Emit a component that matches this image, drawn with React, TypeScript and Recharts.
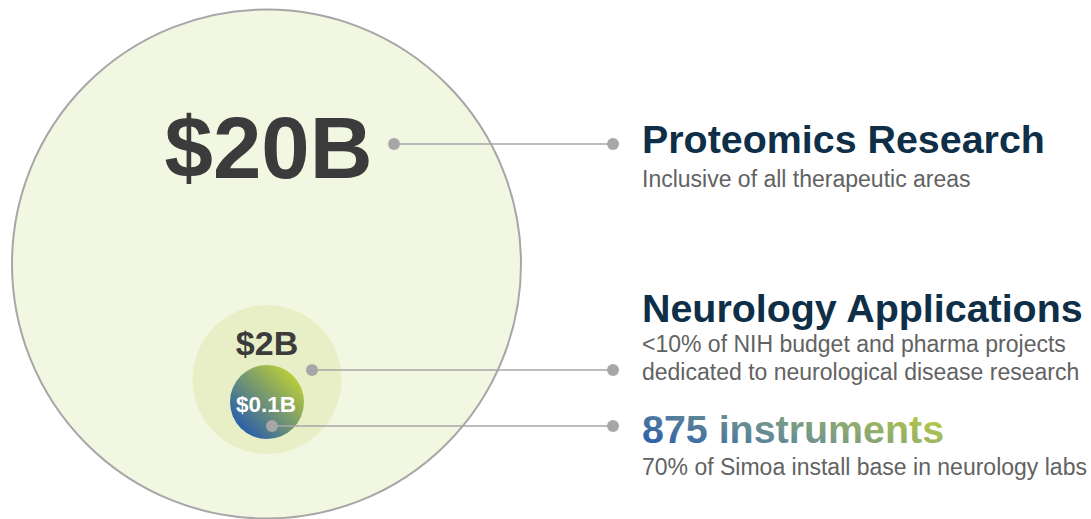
import React from 'react';
import { ScatterChart, Scatter, XAxis, YAxis, ZAxis } from 'recharts';

// market size bubbles (chart units = page pixels)
const bubbleValues = ['$20B', '$2B', '$0.1B'];
const bubbleX = [266.5, 267, 267];
const bubbleY = [264, 379.5, 402];
const bubbleR = [254.5, 74.5, 37];
const labelX = [268.5, 267, 266];
const labelY = [178, 355, 412];

// callouts on the right
const calloutTitles = ['Proteomics Research', 'Neurology Applications', '875 instruments'];
const calloutTitleY = [153, 322, 443];
const calloutNotes = [
  'Inclusive of all therapeutic areas',
  '<10% of NIH budget and pharma projects',
  'dedicated to neurological disease research',
  '70% of Simoa install base in neurology labs',
];
const calloutNoteY = [187, 352, 380, 475];
const calloutX = 642;

// leader lines: start point in the bubble, end point at the callout
const leaderStartX = [394, 312, 272];
const leaderStartY = [144, 370, 426];
const leaderEndX = [613, 613, 613];
const leaderDotR = 6;

const W = 1091;
const H = 519;
const FONT = "Arial, 'Liberation Sans', sans-serif";
const GREY = '#a7a7a7';

const bubbleFills = ['#f2f7e1', '#e8efc6', 'url(#smallBubble)'];
const labelStyles = [
  { size: 87, color: '#3b3b3b' },
  { size: 34, color: '#3b3b3b' },
  { size: 22.5, color: '#ffffff' },
];

const bubbles = bubbleValues.map((v, i) => ({ name: v, x: bubbleX[i], y: bubbleY[i], r: bubbleR[i], idx: i }));
const labels = bubbleValues.map((v, i) => ({ name: v, x: labelX[i], y: labelY[i], idx: i }));
const titles = calloutTitles.map((t, i) => ({ name: t, x: calloutX, y: calloutTitleY[i], idx: i }));
const notes = calloutNotes.map((t, i) => ({ name: t, x: calloutX, y: calloutNoteY[i] }));
const leaders = leaderStartX.map((sx, i) => [
  { x: sx, y: leaderStartY[i], r: leaderDotR },
  { x: leaderEndX[i], y: leaderStartY[i], r: leaderDotR },
]);

const BubbleShape = (props: any) => {
  const { cx, cy, width, payload } = props;
  const i = payload.idx;
  return (
    <circle
      cx={cx}
      cy={cy}
      r={width / 2}
      fill={bubbleFills[i]}
      stroke={i === 0 ? GREY : 'none'}
      strokeWidth={i === 0 ? 2 : 0}
    />
  );
};

const DotShape = (props: any) => {
  const { cx, cy, width } = props;
  return <circle cx={cx} cy={cy} r={width / 2} fill={GREY} />;
};

const ValueLabel = (props: any) => {
  const { cx, cy, payload } = props;
  const s = labelStyles[payload.idx];
  return (
    <text x={cx} y={cy} textAnchor="middle" fontFamily={FONT} fontWeight="bold" fontSize={s.size} fill={s.color}>
      {payload.name}
    </text>
  );
};

const TitleLabel = (props: any) => {
  const { cx, cy, payload } = props;
  return (
    <text
      x={cx}
      y={cy}
      fontFamily={FONT}
      fontWeight="bold"
      fontSize={39.4}
      fill={payload.idx === 2 ? 'url(#instrumentText)' : '#0e2f47'}
    >
      {payload.name}
    </text>
  );
};

const NoteLabel = (props: any) => {
  const { cx, cy, payload } = props;
  return (
    <text x={cx} y={cy} fontFamily={FONT} fontSize={23} fill="#626262">
      {payload.name}
    </text>
  );
};

export default function App() {
  const maxR = bubbleR[0];
  return (
    <div style={{ position: 'absolute', left: 0, top: 0, background: '#fff' }}>
      <ScatterChart width={W} height={H} margin={{ top: 0, right: 0, bottom: 0, left: 0 }}>
        <defs>
          <linearGradient id="smallBubble" x1="0.15" y1="0.85" x2="0.85" y2="0.15">
            <stop offset="0%" stopColor="#2c60a8" />
            <stop offset="100%" stopColor="#b8cb3c" />
          </linearGradient>
          <linearGradient id="instrumentText" x1="0" y1="0.7" x2="1" y2="0.3">
            <stop offset="0%" stopColor="#2f62a9" />
            <stop offset="45%" stopColor="#6f9290" />
            <stop offset="100%" stopColor="#b6cb44" />
          </linearGradient>
        </defs>
        <XAxis type="number" dataKey="x" domain={[0, W]} hide />
        <YAxis type="number" dataKey="y" domain={[0, H]} reversed hide />
        <ZAxis
          zAxisId="bubble"
          type="number"
          dataKey={(d: any) => d.r * d.r}
          domain={[0, maxR * maxR]}
          range={[0, Math.PI * maxR * maxR]}
        />
        <ZAxis zAxisId="text" type="number" range={[1, 1]} />

        <Scatter data={bubbles} zAxisId="bubble" shape={BubbleShape} isAnimationActive={false} />
        <Scatter data={labels} zAxisId="text" shape={ValueLabel} isAnimationActive={false} />
        {leaders.map((seg, i) => (
          <Scatter
            key={i}
            data={seg}
            zAxisId="bubble"
            fill={GREY}
            line={{ stroke: GREY, strokeWidth: 1.5 }}
            shape={DotShape}
            isAnimationActive={false}
          />
        ))}
        <Scatter data={titles} zAxisId="text" shape={TitleLabel} isAnimationActive={false} />
        <Scatter data={notes} zAxisId="text" shape={NoteLabel} isAnimationActive={false} />
      </ScatterChart>
    </div>
  );
}
